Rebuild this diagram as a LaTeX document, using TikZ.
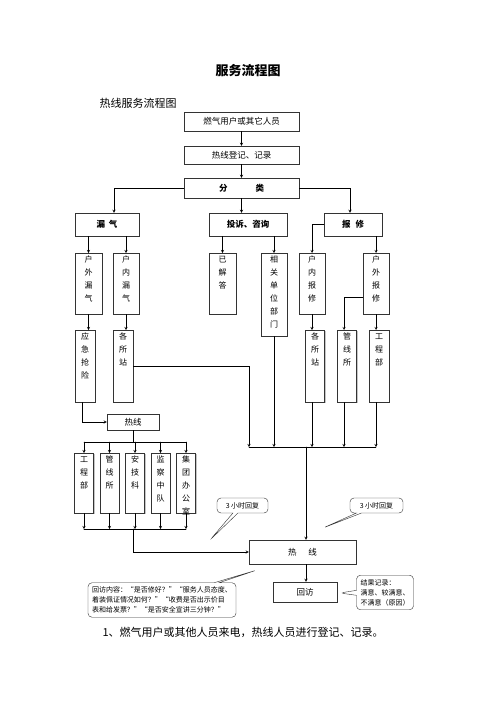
\documentclass[tikz,border=0pt]{standalone}
\usepackage{fontspec}
\setmainfont{Noto Sans CJK SC}
\usetikzlibrary{shapes.callouts,shadows}

% column text, one character per line
\newcommand\coltext[3]{\parbox[c][#2pt][t]{#1pt}{\centering\baselineskip=13pt\vspace*{3pt}#3\par}}

\begin{document}
\begin{tikzpicture}[x=1pt, y=-1pt, >=stealth, line cap=round,
    every node/.style={font=\fontsize{8.5}{10}\selectfont},
    box/.style={draw=black!80, fill=white, inner sep=0pt,
                drop shadow={shadow xshift=1.2pt, shadow yshift=-1.2pt, fill=black!45}},
    col/.style={box, anchor=north, font=\fontsize{8}{13}\selectfont},
    head/.style={box, font=\bfseries\fontsize{8.5}{10}\selectfont},
    tip/.style={rectangle callout, draw=black!80, fill=white, rounded corners=4pt,
                callout pointer width=5pt, font=\fontsize{7}{10}\selectfont}
  ]
\useasboundingbox (0,0) rectangle (496,702);

\node (title) at (248,71) {\fontsize{13}{15}\selectfont\bfseries 服务流程图};
\node[anchor=west] (sub) at (96,103) {\fontsize{11}{13}\selectfont 热线服务流程图};

\node[box, minimum width=115pt, minimum height=19pt] (user) at (241.5,121.5) {燃气用户或其它人员};
\node[box, minimum width=115pt, minimum height=18pt] (reg) at (241.5,155) {热线登记、记录};
\node[head, minimum width=115pt, minimum height=20pt] (cls) at (241.5,188) {分\hspace{28pt}类};

\node[head, minimum width=64pt, minimum height=23pt] (leak) at (107,224.5) {漏\hspace{4pt}气};
\node[head, minimum width=78pt, minimum height=23pt] (cmpl) at (248,224.5) {投诉、咨询};
\node[head, minimum width=58pt, minimum height=23pt] (rep) at (353,224.5) {报\hspace{5pt}修};

\draw[->] (user) -- (reg);
\draw[->] (reg) -- (cls);
\draw[->] (cls.west) -| ([xshift=7pt]leak.north);
\draw[->] (cls.south) -- (cls.south |- cmpl.north);
\draw[->] (cls.east) -| ([xshift=-3pt]rep.north);

% first row of columns
\node[col] (outleak) at (88.5,253) {\coltext{27}{61}{户\\外\\漏\\气}};
\node[col] (inleak) at (126,253) {\coltext{26}{61}{户\\内\\漏\\气}};
\node[col] (answered) at (222.5,253) {\coltext{27}{61}{已\\解\\答}};
\node[col] (dept) at (274,253) {\coltext{26}{83}{相\\关\\单\\位\\部\\门}};
\node[col] (inrep) at (312,253) {\coltext{26}{61}{户\\内\\报\\修}};
\node[col] (outrep) at (376,253) {\coltext{26}{61}{户\\外\\报\\修}};

\draw[->] (outleak.north |- leak.south) -- (outleak.north);
\draw[->] (inleak.north |- leak.south) -- (inleak.north);
\draw[->] (answered.north |- cmpl.south) -- (answered.north);
\draw[->] (dept.north |- cmpl.south) -- (dept.north);
\draw[->] (rep.west) -| (inrep.north);
\draw[->] (outrep.north |- rep.south) -- (outrep.north);

% second row of columns
\node[col] (rescue) at (85,330) {\coltext{20}{72}{应\\急\\抢\\险}};
\node[col] (st1) at (123,330) {\coltext{20}{72}{各\\所\\站}};
\node[col] (st2) at (315,330) {\coltext{19}{72}{各\\所\\站}};
\node[col] (pipe) at (347,330) {\coltext{19}{72}{管\\线\\所}};
\node[col] (eng) at (379,330) {\coltext{20}{72}{工\\程\\部}};

\draw[->] (outleak.south) -- (outleak.south |- rescue.north);
\draw[->] (inleak.south) -- (inleak.south |- st1.north);
\draw[->] (inrep.south) -- (inrep.south |- st2.north);
\draw[->] ([yshift=17pt]outrep.south west) -| ([xshift=-3pt]pipe.north);
\draw[->] (outrep.south) -- (outrep.south |- eng.north);

\node[box, minimum width=52pt, minimum height=16pt] (hl1) at (133,422) {热线};
\draw[->] ([xshift=-3pt]rescue.south) |- (hl1.west);

% right collecting line
\coordinate (rb) at (249,447);
\coordinate (rd) at (306,447);
\draw[->] (st1.east) -| (rb);
\draw[->] (dept.south) -- (dept.south |- rb);
\draw[->] (inrep.south |- st2.south) -- (inrep.south |- rb);
\draw[->] ([xshift=-3pt]pipe.south) -- ([xshift=-3pt]pipe.south |- rb);
\draw[->] (outrep.south |- eng.south) -- (outrep.south |- rb);
\draw (rb) -- (outrep.south |- rb);

% departments
\coordinate (tb) at (84,442);
\coordinate (bb) at (84,529);
\foreach \nm/\txt [count=\i from 0] in {gcb/工\\程\\部, gxs/管\\线\\所, ajk/安\\技\\科,
                                         jczd/监\\察\\中\\队, jtb/集\\团\\办\\公\\室}{
  \node[col] (\nm) at (84+25.5*\i,453) {\coltext{19}{60}{\txt}};
  \draw[->] (\nm.north |- tb) -- (\nm.north);
  \draw[->] (\nm.south) -- (\nm.south |- bb);
}
\draw (hl1.south) -- (hl1.south |- tb);
\draw (gcb.north |- tb) -- (jtb.north |- tb);
\draw[thick] (gcb.south |- bb) -- (jtb.south |- bb);

\node[box, minimum width=107pt, minimum height=24pt] (hx) at (302.5,552) {热\hspace{12pt}线};
\node[box, minimum width=64pt, minimum height=20pt] (visit) at (305,592) {回访};
\draw[->] (hl1.south |- bb) |- (hx.west);
\draw[->] (rd) -- (rd |- hx.north);
\draw[->] (rd |- hx.south) -- (rd |- visit.north);

% callouts
\node[tip, minimum width=51pt, minimum height=15pt, callout absolute pointer={(210,540)}] (tipa) at (242.5,505.5) {3 小时回复};
\node[tip, minimum width=53pt, minimum height=15pt, callout absolute pointer={(323,528)}] (tipb) at (376.5,505.5) {3 小时回复};
\node[tip, align=left, inner sep=4pt, callout absolute pointer={(257,570)}] (tipc) at (162,600)
  {回访内容：“是否修好？”“服务人员态度、\\着装佩证情况如何？”“收费是否出示价目\\表和给发票？”“是否安全宣讲三分钟？”};
\node[tip, align=left, inner sep=4pt, callout absolute pointer={(340,593)}] (tipd) at (385,592.5)
  {结果记录：\\满意、较满意、\\不满意（原因）};

\node[anchor=west] (note) at (99,632) {\fontsize{11}{13}\selectfont 1、燃气用户或其他人员来电，热线人员进行登记、记录。};
\end{tikzpicture}
\end{document}
